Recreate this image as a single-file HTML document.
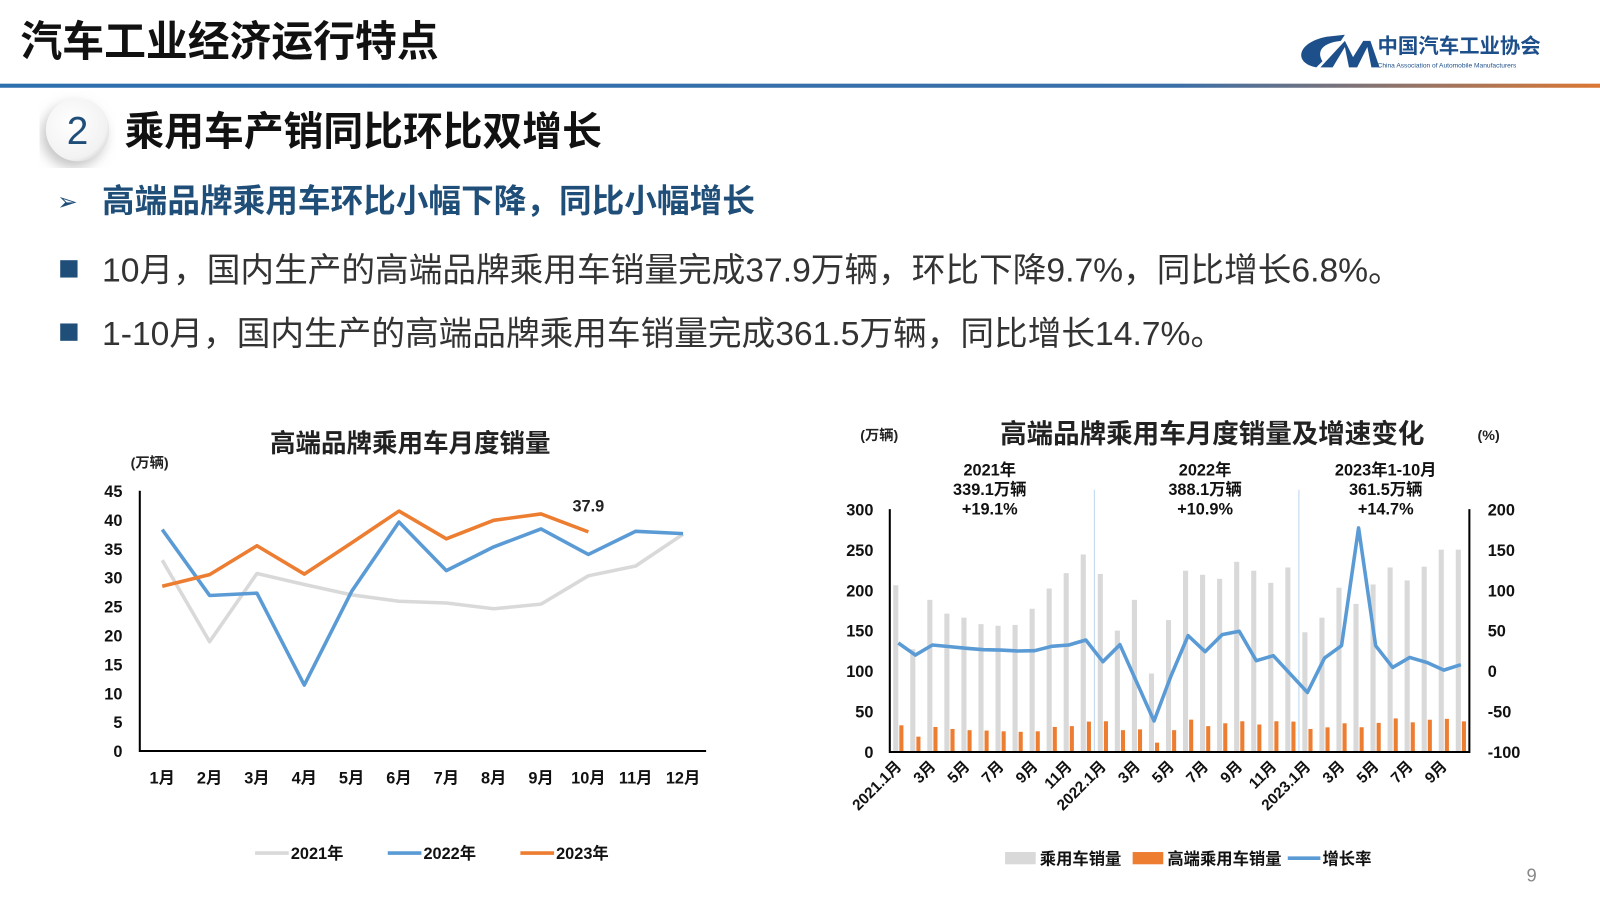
<!DOCTYPE html>
<html><head><meta charset="utf-8"><style>
body{margin:0;background:#fff;}
svg{display:block;font-family:"Liberation Sans","Noto Sans CJK SC",sans-serif;}
</style></head><body>
<svg width="1600" height="899" viewBox="0 0 1600 899">
<defs>
<linearGradient id="hdr" x1="0" x2="1"><stop offset="0" stop-color="#2e6fae"/><stop offset="0.72" stop-color="#3a6fa8"/><stop offset="1" stop-color="#e8782a"/></linearGradient>
<radialGradient id="circ" cx="0.4" cy="0.4" r="0.7"><stop offset="0" stop-color="#ffffff"/><stop offset="0.8" stop-color="#f2f2f2"/><stop offset="1" stop-color="#d0d0d0"/></radialGradient>
<filter id="sh"><feDropShadow dx="-4" dy="6" stdDeviation="6" flood-color="#888" flood-opacity="0.5"/></filter>
</defs>
<g transform="scale(1.0204)">
<text x="20" y="55" font-size="41" font-weight="bold" fill="#111">汽车工业经济运行特点</text>
<g>
<path d="M1290 66 C1268 62 1270 42 1300 36 L1318 34 L1314 40 C1296 42 1290 50 1296 60 Z M1294 66 L1306 66 L1318 46 L1322 66 L1330 66 L1340 46 L1344 66 L1352 66 L1343 40 L1336 40 L1326 56 L1318 40 Z" fill="#1d4f8a"/>
<text x="1350" y="52" font-size="20" font-weight="bold" fill="#1d4f8a">中国汽车工业协会</text>
<text x="1350" y="66" font-size="6.5" fill="#1d4f8a">China Association of Automobile Manufacturers</text>
</g>
<rect x="0" y="82" width="1600" height="4" fill="url(#hdr)"/>
<circle cx="76" cy="127" r="31" fill="url(#circ)" filter="url(#sh)"/>
<text x="76" y="141" font-size="38" text-anchor="middle" fill="#1f4e79">2</text>
<text x="122" y="142" font-size="39" font-weight="bold" fill="#111">乘用车产销同比环比双增长</text>
<text x="56" y="206" font-size="24" fill="#1f4e79">➢</text>
<text x="100" y="208" font-size="32" font-weight="bold" fill="#1f4e79">高端品牌乘用车环比小幅下降，同比小幅增长</text>
<rect x="59" y="255" width="17" height="17" fill="#1f4e79"/>
<text x="100" y="276" font-size="33" fill="#333">10月，国内生产的高端品牌乘用车销量完成37.9万辆，环比下降9.7%，同比增长6.8%。</text>
<rect x="59" y="317" width="17" height="17" fill="#1f4e79"/>
<text x="100" y="338" font-size="33" fill="#333">1-10月，国内生产的高端品牌乘用车销量完成361.5万辆，同比增长14.7%。</text>
<text x="1496" y="864" font-size="18" fill="#888">9</text>
<g id="left"></g>
<g id="right"></g>
</g>
</svg>
<script>
const NS='http://www.w3.org/2000/svg';
const monthsL=['1月','2月','3月','4月','5月','6月','7月','8月','9月','10月','11月','12月'];
const sales2021=[33,18.9,30.7,28.8,27,25.9,25.6,24.6,25.4,30.3,32,37.5];
const sales2022=[38.3,26.9,27.3,11.4,27.6,39.6,31.2,35.3,38.4,34,38,37.6];
const sales2023=[28.5,30.5,35.5,30.6,36,41.5,36.7,39.9,41,37.9];
const ticksL=[0,5,10,15,20,25,30,35,40,45];

const passSales=[206,127,188,171,166,158,156,157,177,202,221,244,220,150,188,97,163,224,219,214,235,224,209,228,148,166,203,183,207,228,212,229,250,250];
const premiumSales=[33,19,31,28.5,27,26.5,25.6,25,25.6,31,32,37.6,38,27,28,11.6,27,40,32,35.5,38,34,38,37.6,28.5,30.5,35.5,30.6,36,41.5,36.7,39.9,41,37.9];
const growthRate=[34.7,19.8,32.2,30.2,28.1,26.4,26,24.8,25.2,30.6,32.2,38.4,11.6,32.6,-14.5,-61.6,-5.8,43.8,24,45,49.2,12.8,19,-3.7,-26.4,16.1,31.4,176.9,31.4,4.5,16.9,10.7,1.2,7.9];
const monthLabelsR=['2021.1月','3月','5月','7月','9月','11月','2022.1月','3月','5月','7月','9月','11月','2023.1月','3月','5月','7月','9月'];
const ticksRL=[0,50,100,150,200,250,300];
const ticksRR=[-100,-50,0,50,100,150,200];

function mk(p,tag,a,txt){const e=document.createElementNS(NS,tag);for(const k in a)e.setAttribute(k,a[k]);if(txt!==undefined)e.textContent=txt;p.appendChild(e);return e;}

// LEFT CHART
const L=document.getElementById('left');
const lx0=137,lx1=692,ly0=736,ly1=481;
const lX=i=>159+i*46.4;
const lY=v=>ly0-(v/45)*(ly0-ly1);
let t=mk(L,'text',{x:402,y:443,'font-size':25,'font-weight':'bold','text-anchor':'middle',fill:'#222'},'高端品牌乘用车月度销量');


t=mk(L,'text',{x:128,y:458,'font-size':14,'font-weight':'bold',fill:'#222'},'(万辆)');


ticksL.forEach(v=>{const e=mk(L,'text',{x:120,y:lY(v)+6,'font-size':16,'font-weight':'bold','text-anchor':'end',fill:'#111'},String(v));

});
monthsL.forEach((m,i)=>{const e=mk(L,'text',{x:lX(i),y:768,'font-size':16,'font-weight':'bold','text-anchor':'middle',fill:'#111'},m);

});
[[sales2021,'#d9d9d9','line-2021'],[sales2022,'#5b9bd5','line-2022'],[sales2023,'#ed7d31','line-2023']].forEach(([d,c,n])=>{
 const p=mk(L,'polyline',{points:d.map((v,i)=>lX(i)+','+lY(v)).join(' '),fill:'none',stroke:c,'stroke-width':3.5,'stroke-linejoin':'round'});
 
 
});
const lastI=sales2023.length-1;
t=mk(L,'text',{x:lX(lastI),y:lY(sales2023[lastI])-20,'font-size':16,'font-weight':'bold','text-anchor':'middle',fill:'#222'},sales2023[lastI].toFixed(1));


let ax=mk(L,'path',{d:`M${lx0} ${ly1} L${lx0} ${ly0} L${lx1} ${ly0}`,fill:'none',stroke:'#000','stroke-width':2});


[[250,'#d9d9d9','2021年'],[380,'#5b9bd5','2022年'],[510,'#ed7d31','2023年']].forEach(([x,c,s])=>{
 const g=mk(L,'g',{});
 
 
 mk(g,'line',{x1:x,y1:836,x2:x+33,y2:836,stroke:c,'stroke-width':3.5});
 mk(g,'text',{x:x+35,y:842,'font-size':16,'font-weight':'bold',fill:'#111'},s);
});

// RIGHT CHART
const R=document.getElementById('right');
const rx0=872,rx1=1440,ry0=737,ry1=499;
const slot=(rx1-rx0)/passSales.length;
const rX=i=>rx0+slot*(i+0.5);
const rY=v=>ry0-(v/300)*(ry0-ry1);
const rY2=v=>ry0-((v+100)/300)*(ry0-ry1);
t=mk(R,'text',{x:1188,y:434,'font-size':26,'font-weight':'bold','text-anchor':'middle',fill:'#222'},'高端品牌乘用车月度销量及增速变化');


t=mk(R,'text',{x:843,y:431,'font-size':14,'font-weight':'bold',fill:'#222'},'(万辆)');


t=mk(R,'text',{x:1448,y:431,'font-size':14,'font-weight':'bold',fill:'#222'},'(%)');


ticksRL.forEach(v=>{const e=mk(R,'text',{x:856,y:rY(v)+6,'font-size':16,'font-weight':'bold','text-anchor':'end',fill:'#111'},String(v));

});
ticksRR.forEach(v=>{const e=mk(R,'text',{x:1458,y:rY2(v)+6,'font-size':16,'font-weight':'bold',fill:'#111'},String(v));

});
[12,24].forEach(i=>{const e=mk(R,'line',{x1:rx0+slot*i,y1:480,x2:rx0+slot*i,y2:ry0,stroke:'#bcd6ee','stroke-width':1});

});
passSales.forEach((v,i)=>{const e=mk(R,'rect',{x:rX(i)-5,y:rY(v),width:5,height:ry0-rY(v),fill:'#d9d9d9'});

});
premiumSales.forEach((v,i)=>{const e=mk(R,'rect',{x:rX(i)+1,y:rY(v),width:4,height:ry0-rY(v),fill:'#ed7d31'});

});
let gl=mk(R,'polyline',{points:growthRate.map((v,i)=>rX(i)+','+rY2(v)).join(' '),fill:'none',stroke:'#5b9bd5','stroke-width':3.5,'stroke-linejoin':'round'});


ax=mk(R,'path',{d:`M${rx0} ${ry1} L${rx0} ${ry0} L${rx1} ${ry0} L${rx1} ${ry1}`,fill:'none',stroke:'#000','stroke-width':2});


monthLabelsR.forEach((s,k)=>{const x=rX(k*2)+4,y=752;
 const e=mk(R,'text',{x:x,y:y,'font-size':15,'font-weight':'bold','text-anchor':'end',fill:'#111',transform:`rotate(-45 ${x} ${y})`},s);
 
 });
[[970,['2021年','339.1万辆','+19.1%']],[1181,['2022年','388.1万辆','+10.9%']],[1358,['2023年1-10月','361.5万辆','+14.7%']]].forEach(([x,ls])=>{
 const g=mk(R,'g',{});
 
 
 ls.forEach((s,j)=>mk(g,'text',{x:x,y:466+j*19,'font-size':16,'font-weight':'bold','text-anchor':'middle',fill:'#111'},s));
});
[[985,'rect','#d9d9d9','乘用车销量'],[1110,'rect','#ed7d31','高端乘用车销量'],[1262,'line','#5b9bd5','增长率']].forEach(([x,k,c,s])=>{
 const g=mk(R,'g',{});
 
 
 if(k==='rect')mk(g,'rect',{x:x,y:835,width:30,height:12,fill:c});
 else mk(g,'line',{x1:x,y1:841,x2:x+32,y2:841,stroke:c,'stroke-width':3.5});
 mk(g,'text',{x:x+34,y:847,'font-size':16,'font-weight':'bold',fill:'#111'},s);
});
</script>
</body></html>
